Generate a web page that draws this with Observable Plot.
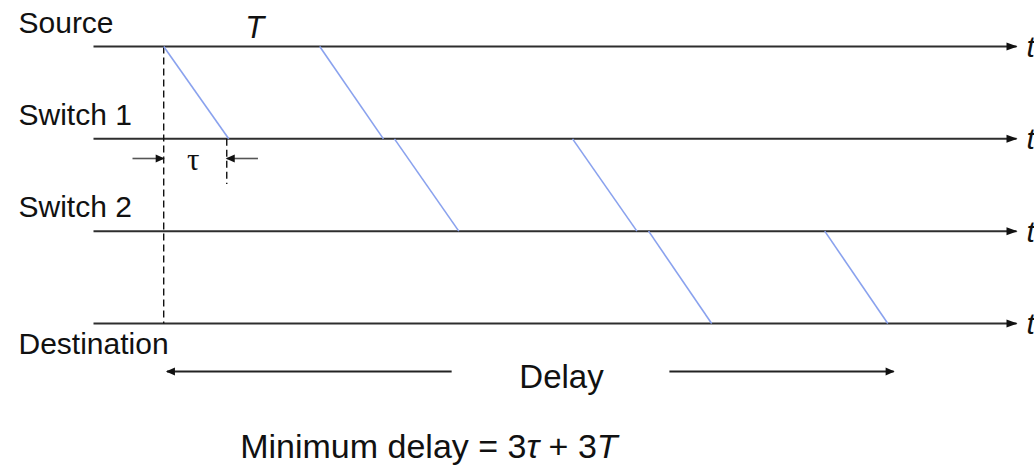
<!DOCTYPE html>
<html><head><meta charset="utf-8">
<script src="https://cdn.jsdelivr.net/npm/d3@7"></script>
<script src="https://cdn.jsdelivr.net/npm/@observablehq/plot@0.6"></script>
<style>
html,body{margin:0;padding:0;background:#fff;}
#chart svg{display:block;}
</style></head><body><div id="chart"></div>
<script>
// ---- data (time in arbitrary units, level = node index) ----
const nodes = ["Source", "Switch 1", "Switch 2", "Destination"];
const nodeLevel = [0, 1, 2, 3];
const axisStart = -10.8;
const axisEnd = 131.2;
// per hop: Source->Switch 1, Switch 1->Switch 2, Switch 2->Destination
const firstBitDepart = [0, 35.5, 74.6];
const firstBitArrive = [10, 45.4, 84.3];
const lastBitDepart  = [24, 62.9, 101.7];
const lastBitArrive  = [33.8, 72.8, 111.4];
// annotations
const tauSpan = [0, 9.7];           // propagation delay markers
const tauArrowTails = [-4.8, 14.5];
const delaySpan = [0.5, 112.3];     // overall delay
const delayGap = [44.3, 77.8];      // gap around "Delay" label
const transmitLabel = "T";
const propLabel = "τ";
const delayLabel = "Delay";
const timeLabel = "t";
const formula = "Minimum delay = 3τ + 3T";

// ---- derived tables ----
const hops = d3.range(3).flatMap(i => [
  {x1: firstBitDepart[i], x2: firstBitArrive[i], y1: nodeLevel[i], y2: nodeLevel[i + 1]},
  {x1: lastBitDepart[i],  x2: lastBitArrive[i],  y1: nodeLevel[i], y2: nodeLevel[i + 1]}
]);
const tauRow = 1.213, delayRow = 3.52;
const tauArrows = [
  {tail: tauArrowTails[0], tip: tauSpan[0]},
  {tail: tauArrowTails[1], tip: tauSpan[1]}
];
const delayArrows = [
  {tail: delayGap[0], tip: delaySpan[0]},
  {tail: delayGap[1], tip: delaySpan[1]}
];
const head = (dir, L, W) => ({
  draw(ctx) {
    ctx.moveTo(dir * 1, 0);
    ctx.lineTo(dir * (1 - L), -W / 2);
    ctx.lineTo(dir * (1 - L), W / 2);
    ctx.closePath();
  }
});
const headR = head(1, 11, 8);
const smallR = head(1, 9, 8), smallL = head(-1, 9, 8);
const FONT = "'Liberation Sans', Arial, sans-serif";

const chart = Plot.plot({
  width: 1034, height: 466, margin: 0,
  style: {background: "#fff", fontFamily: FONT, overflow: "hidden"},
  x: {type: "linear", domain: [axisStart, axisEnd], range: [93, 1016], axis: null},
  y: {type: "linear", domain: [nodeLevel[0], nodeLevel[3]], range: [46, 323], axis: null},
  marks: [
    // time axes
    Plot.link(nodeLevel, {x1: () => axisStart, x2: () => axisEnd, y1: d => d, y2: d => d,
      stroke: "#2e2e2e", strokeWidth: 2}),
    Plot.dot(nodeLevel, {x: () => axisEnd, y: d => d, symbol: headR, fill: "#111", stroke: "none"}),
    // dashed references
    Plot.link([tauSpan[0]], {x1: d => d, x2: d => d, y1: () => nodeLevel[0], y2: () => nodeLevel[3],
      stroke: "#111", strokeWidth: 1.4, strokeDasharray: "7,4"}),
    Plot.link([tauSpan[1]], {x1: d => d, x2: d => d, y1: () => nodeLevel[1], y2: () => 1.49,
      stroke: "#111", strokeWidth: 1.4, strokeDasharray: "7,4"}),
    // packet transmissions
    Plot.link(hops, {x1: "x1", x2: "x2", y1: "y1", y2: "y2", stroke: "#8aa2ee", strokeWidth: 1.6}),
    // tau arrows
    Plot.link(tauArrows, {x1: "tail", x2: "tip", y1: () => tauRow, y2: () => tauRow,
      stroke: "#555", strokeWidth: 1.6}),
    Plot.dot(tauArrows.filter(d => d.tip > d.tail), {x: "tip", y: () => tauRow, symbol: smallR, fill: "#111", stroke: "none"}),
    Plot.dot(tauArrows.filter(d => d.tip < d.tail), {x: "tip", y: () => tauRow, symbol: smallL, fill: "#111", stroke: "none"}),
    // delay arrows
    Plot.link(delayArrows, {x1: "tail", x2: "tip", y1: () => delayRow, y2: () => delayRow,
      stroke: "#222", strokeWidth: 2}),
    Plot.dot(delayArrows.filter(d => d.tip > d.tail), {x: "tip", y: () => delayRow, symbol: smallR, fill: "#111", stroke: "none"}),
    Plot.dot(delayArrows.filter(d => d.tip < d.tail), {x: "tip", y: () => delayRow, symbol: smallL, fill: "#111", stroke: "none"}),
    // node labels
    Plot.text(nodes.slice(0, 3), {frameAnchor: "left", y: (d, i) => nodeLevel[i], text: d => d,
      textAnchor: "start", lineAnchor: "bottom", dx: 18, dy: -14, fontSize: 30, fill: "#111"}),
    Plot.text(nodes.slice(3), {frameAnchor: "left", y: () => nodeLevel[3], text: d => d,
      textAnchor: "start", lineAnchor: "bottom", dx: 18, dy: 30, fontSize: 30, fill: "#111"}),
    // t labels
    Plot.text(nodeLevel, {x: () => axisEnd, y: d => d, text: () => timeLabel, textAnchor: "start",
      lineAnchor: "middle", dx: 10, dy: 1, fontSize: 30, fontStyle: "italic", fill: "#111"}),
    // T label
    Plot.text([transmitLabel], {x: () => 14, y: () => nodeLevel[0], text: d => d, textAnchor: "middle",
      lineAnchor: "bottom", dy: -9, fontSize: 31, fontStyle: "italic", fill: "#111"}),
    // tau label
    Plot.text([propLabel], {x: () => (tauSpan[0] + tauSpan[1]) / 2 - 0.3, y: () => tauRow, text: d => d,
      textAnchor: "middle", lineAnchor: "middle", dy: 2, fontSize: 31, fontFamily: "'Liberation Serif', serif", fill: "#111"}),
    // delay label
    Plot.text([delayLabel], {x: () => 61.2, y: () => delayRow, text: d => d, textAnchor: "middle",
      lineAnchor: "bottom", dy: 16, fontSize: 33, fill: "#111"}),
    // formula
    Plot.text([formula], {x: () => 40.8, y: () => delayRow, text: d => d, textAnchor: "middle",
      lineAnchor: "bottom", dy: 86, fontSize: 34, fill: "#111"})
  ]
});

// italicize the symbols in the formula
chart.querySelectorAll("text").forEach(t => {
  if (t.textContent === formula) {
    while (t.firstChild) t.removeChild(t.firstChild);
    const parts = [["Minimum delay = 3", false], ["τ", true], [" + 3", false], ["T", true]];
    for (const [s, it] of parts) {
      const ts = document.createElementNS("http://www.w3.org/2000/svg", "tspan");
      ts.textContent = s;
      if (it) ts.setAttribute("font-style", "italic");
      t.appendChild(ts);
    }
  }
});

document.getElementById("chart").appendChild(chart);
</script>
</body></html>
